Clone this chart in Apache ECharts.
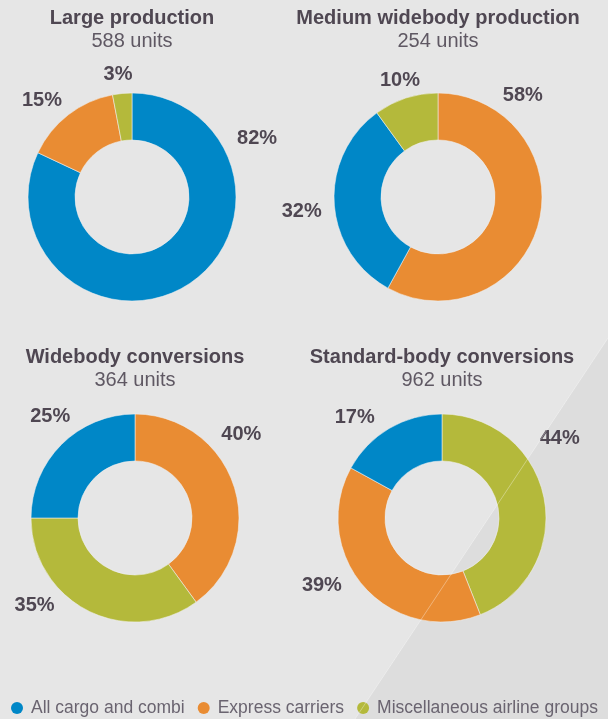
<!DOCTYPE html>
<html>
<head>
<meta charset="utf-8">
<script src="https://cdn.jsdelivr.net/npm/echarts@6/dist/echarts.min.js"></script>
<style>
  html, body { margin: 0; padding: 0; background: #e6e6e6; }
  #chart { width: 608px; height: 719px; }
</style>
</head>
<body>
<div id="chart"></div>
<script>
// Fleet segments shown in every donut
const categories = ['All cargo and combi', 'Express carriers', 'Miscellaneous airline groups'];
const categoryColors = ['#0087c7', '#e98c33', '#b4b93b'];

// Donut titles and unit totals
const chartTitles = ['Large production', 'Medium widebody production', 'Widebody conversions', 'Standard-body conversions'];
const unitTotals = [588, 254, 364, 962];

// Shares (%) per category, in category order
const largeProduction = [82, 15, 3];
const mediumWidebodyProduction = [32, 58, 10];
const widebodyConversions = [25, 40, 35];
const standardBodyConversions = [17, 39, 44];
const shares = [largeProduction, mediumWidebodyProduction, widebodyConversions, standardBodyConversions];

// Clockwise drawing order of categories, starting at 12 o'clock
const sliceOrder = [[0, 1, 2], [1, 0, 2], [1, 2, 0], [2, 1, 0]];

// Layout: donut centres and label placement (angle in degrees, distance from centre)
const centers = [[132, 197], [438, 197], [135, 518], [442, 518]];
const labelPlacement = [
  [[25, 138], [133, 132], [96.5, 123]],
  [[186, 137], [50, 132], [108, 123]],
  [[130, 132], [38, 135], [221, 133]],
  [[131, 133], [209.5, 138], [34, 142]]
];

const textDark = '#4f4752';
const textSoft = '#5f5863';

const chart = echarts.init(document.getElementById('chart'), null, { renderer: 'canvas' });

const titles = chartTitles.map((t, i) => ({
  text: t,
  subtext: unitTotals[i] + ' units',
  left: centers[i][0],
  top: i < 2 ? 8 : 347,
  textAlign: 'center',
  padding: 0,
  itemGap: 3,
  textStyle: { fontFamily: 'Liberation Sans', fontSize: 20, fontWeight: 'bold', color: textDark },
  subtextStyle: { fontFamily: 'Liberation Sans', fontSize: 20, fontWeight: 'normal', color: textSoft }
}));

const series = shares.map((vals, si) => ({
  type: 'pie',
  center: centers[si],
  radius: [57, 104],
  startAngle: 90,
  clockwise: true,
  avoidLabelOverlap: false,
  silent: true,
  itemStyle: { borderColor: 'rgba(240,240,240,0.7)', borderWidth: 0.8 },
  label: {
    show: true,
    position: 'outside',
    formatter: '{c}%',
    fontFamily: 'Liberation Sans',
    fontSize: 20,
    fontWeight: 'bold',
    color: textDark
  },
  labelLine: { show: false },
  labelLayout: function (p) {
    const ci = series[si].data[p.dataIndex].cat;
    const pl = labelPlacement[si][ci];
    const a = pl[0] * Math.PI / 180;
    return {
      x: centers[si][0] + Math.cos(a) * pl[1],
      y: centers[si][1] - Math.sin(a) * pl[1],
      align: 'center',
      verticalAlign: 'middle'
    };
  },
  data: sliceOrder[si].map(ci => ({
    name: categories[ci],
    value: vals[ci],
    cat: ci,
    itemStyle: { color: categoryColors[ci] }
  }))
}));

chart.setOption({
  backgroundColor: '#e6e6e6',
  animation: false,
  color: categoryColors,
  title: titles,
  legend: {
    data: categories.map((c, i) => ({ name: c, itemStyle: { color: categoryColors[i], borderWidth: 0 } })),
    left: 11,
    top: 699,
    width: 597,
    padding: 0,
    icon: 'circle',
    itemWidth: 12,
    itemHeight: 12,
    itemGap: 13,
    selectedMode: false,
    textStyle: { fontFamily: 'Liberation Sans', fontSize: 17.5, color: '#6a6470', padding: [0, 0, 0, 3] }
  },
  graphic: [
    {
      type: 'polygon',
      z: -10,
      silent: true,
      shape: { points: [[355, 719], [608, 719], [608, 338]] },
      style: { fill: '#dddddd' }
    },
    {
      type: 'line',
      z: 100,
      silent: true,
      shape: { x1: 355, y1: 719, x2: 608, y2: 338 },
      style: { stroke: 'rgba(255,255,255,0.35)', lineWidth: 1 }
    }
  ],
  series: series
});
</script>
</body>
</html>
